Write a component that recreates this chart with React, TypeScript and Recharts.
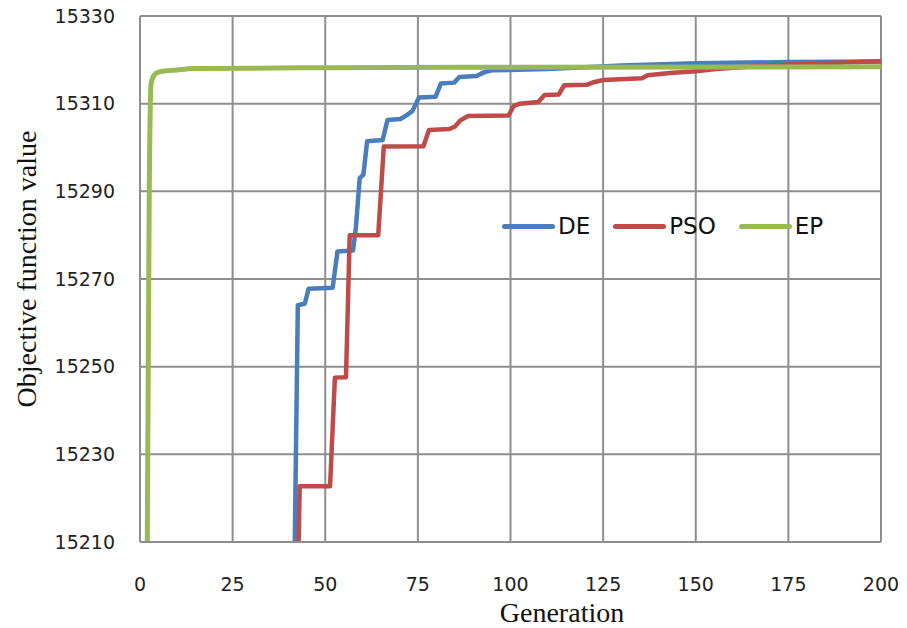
// modules
import { LineChart, Line, XAxis, YAxis, CartesianGrid, Legend } from "recharts";


// x ticks / y ticks
const generationTicks = [0, 25, 50, 75, 100, 125, 150, 175, 200];
const objectiveTicks = [15210, 15230, 15250, 15270, 15290, 15310, 15330];

// DE (blue)
const deGen = [41.7, 42.6, 44.5, 45.5, 52, 53.3, 57.5, 58.3, 59.3, 60.3, 61.3, 65.5, 66.8, 70.3, 72, 73.5, 75.3, 79.8, 81.2, 84.8, 86.2, 90.8, 93, 95, 110, 130, 150, 175, 200];
const deVal = [15205, 15264, 15264.4, 15267.8, 15268, 15276.3, 15276.5, 15282, 15293, 15293.8, 15301.4, 15301.7, 15306.3, 15306.5, 15307.4, 15308.3, 15311.4, 15311.6, 15314.6, 15314.8, 15316.1, 15316.3, 15317.2, 15317.6, 15317.9, 15318.7, 15319.2, 15319.5, 15319.6];

// PSO (red)
const psoGen = [42.6, 43.1, 51.3, 52.6, 55.6, 56.6, 64.3, 65.8, 76.5, 78, 83.5, 85, 86.5, 88.5, 99.5, 100.8, 102.5, 107.5, 109.2, 113, 114.5, 120.5, 122.5, 125, 135.5, 137, 143, 150, 155.5, 165, 180, 200];
const psoVal = [15200, 15222.7, 15222.7, 15247.5, 15247.6, 15280, 15280, 15300.2, 15300.3, 15304, 15304.2, 15304.8, 15306.2, 15307.2, 15307.3, 15309.4, 15310, 15310.4, 15312, 15312.1, 15314.2, 15314.3, 15314.9, 15315.4, 15315.8, 15316.5, 15317, 15317.4, 15317.9, 15318.5, 15319.1, 15319.7];

// EP (green)
const epGen = [1.9, 2.5, 3, 3.8, 5, 10, 15, 50, 100, 200];
const epVal = [15200, 15290, 15314.5, 15316.5, 15317.2, 15317.7, 15318, 15318.2, 15318.3, 15318.4];

const legendOrder = ["DE", "PSO", "EP"];


const deData = deGen.map((gen, i) => ({ gen, value: deVal[i] }));
const psoData = psoGen.map((gen, i) => ({ gen, value: psoVal[i] }));
const epData = epGen.map((gen, i) => ({ gen, value: epVal[i] }));


const gridColor = "#8e8e8e";
const tickStyle = { fontFamily: "DejaVu Sans", fontSize: 19, fill: "#222222" };


function renderLegend({ payload }: any) {
  const items = [...(payload || [])].sort(
    (a: any, b: any) => legendOrder.indexOf(a.value) - legendOrder.indexOf(b.value)
  );
  return (
    <div style={{ display: "flex", alignItems: "center", fontFamily: "DejaVu Sans", fontSize: 23, color: "#111111" }}>
      {items.map((entry: any) => (
        <div key={entry.value} style={{ display: "flex", alignItems: "center", marginRight: 23 }}>
          <div style={{ width: 53, height: 5, borderRadius: 3, background: entry.color, marginRight: 3 }} />
          <span>{entry.value}</span>
        </div>
      ))}
    </div>
  );
}


export default function App() {
  return (
    <div style={{ position: "absolute", left: 0, top: 0, width: 907, height: 628, background: "#ffffff" }}>
      <LineChart width={907} height={628} margin={{ top: 16, right: 26, bottom: 0, left: 0 }}>
        <CartesianGrid stroke={gridColor} strokeWidth={2} />
        <XAxis
          dataKey="gen"
          type="number"
          domain={[0, 200]}
          ticks={generationTicks}
          allowDataOverflow
          height={86}
          tickLine={false}
          tickSize={0}
          tickMargin={36}
          axisLine={{ stroke: gridColor, strokeWidth: 2 }}
          tick={tickStyle}
          label={{
            content: () => (
              <text x={562} y={612} textAnchor="middle" dominantBaseline="central"
                style={{ fontFamily: "Liberation Serif", fontSize: 28, fill: "#111111" }}>
                Generation
              </text>
            ),
          }}
        />
        <YAxis
          type="number"
          domain={[15210, 15330]}
          ticks={objectiveTicks}
          allowDataOverflow
          width={140}
          tickLine={false}
          tickSize={0}
          tickMargin={25}
          axisLine={{ stroke: gridColor, strokeWidth: 2 }}
          tick={tickStyle}
          label={{
            content: () => (
              <text x={26} y={269} textAnchor="middle" dominantBaseline="central" transform="rotate(-90 26 269)"
                style={{ fontFamily: "Liberation Serif", fontSize: 28, fill: "#111111" }}>
                Objective function value
              </text>
            ),
          }}
        />
        <Legend
          layout="horizontal"
          verticalAlign="middle"
          align="center"
          content={renderLegend}
          wrapperStyle={{ top: 213, left: 502, width: "auto" }}
        />
        <Line data={deData} dataKey="value" name="DE" type="linear" stroke="#4a7ebb" strokeWidth={4.5}
          strokeLinejoin="round" dot={false} activeDot={false} isAnimationActive={false} />
        <Line data={psoData} dataKey="value" name="PSO" type="linear" stroke="#be4b48" strokeWidth={4.5}
          strokeLinejoin="round" dot={false} activeDot={false} isAnimationActive={false} />
        <Line data={epData} dataKey="value" name="EP" type="monotone" stroke="#98b954" strokeWidth={5}
          strokeLinejoin="round" dot={false} activeDot={false} isAnimationActive={false} />
      </LineChart>
    </div>
  );
}
